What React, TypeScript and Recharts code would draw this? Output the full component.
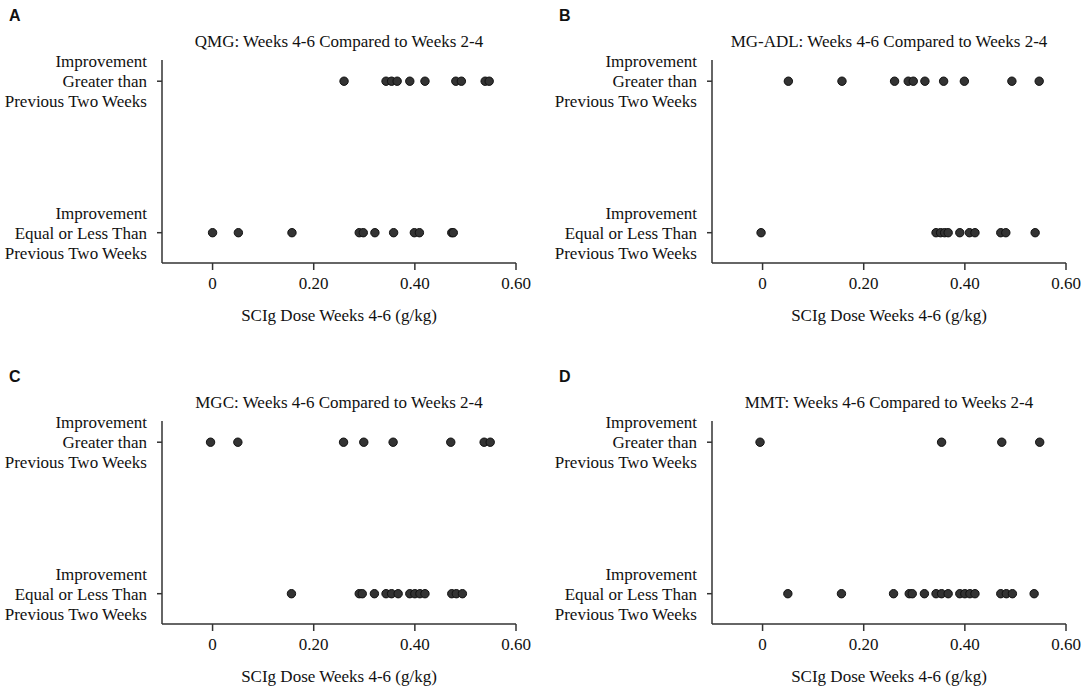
import { ScatterChart, Scatter, XAxis, YAxis } from 'recharts';

// dose values (g/kg), one list per outcome row
const qmgGreater = [0.26, 0.343, 0.354, 0.365, 0.39, 0.42, 0.481, 0.492, 0.539, 0.547];
const qmgEqual = [0, 0.051, 0.157, 0.29, 0.298, 0.321, 0.358, 0.399, 0.409, 0.473, 0.476];

const adlGreater = [0.051, 0.157, 0.261, 0.288, 0.298, 0.321, 0.358, 0.399, 0.493, 0.547];
const adlEqual = [-0.003, 0.343, 0.352, 0.36, 0.367, 0.39, 0.409, 0.42, 0.471, 0.481, 0.539];

const mgcGreater = [-0.004, 0.05, 0.259, 0.299, 0.357, 0.471, 0.537, 0.549];
const mgcEqual = [0.156, 0.29, 0.296, 0.32, 0.343, 0.354, 0.367, 0.39, 0.4, 0.41, 0.42, 0.473, 0.482, 0.494];

const mmtGreater = [-0.005, 0.354, 0.473, 0.548];
const mmtEqual = [0.05, 0.156, 0.259, 0.29, 0.296, 0.32, 0.343, 0.354, 0.367, 0.39, 0.4, 0.41, 0.42, 0.471, 0.482, 0.494, 0.537];

const xTicks = [0, 0.2, 0.4, 0.6];
const yCategories: Record<number, string[]> = {
  1: ['Improvement', 'Greater than', 'Previous Two Weeks'],
  0: ['Improvement', 'Equal or Less Than', 'Previous Two Weeks'],
};
const xLabel = 'SCIg Dose Weeks 4-6 (g/kg)';

const panels = [
  { letter: 'A', title: 'QMG: Weeks 4-6 Compared to Weeks 2-4', greater: qmgGreater, equal: qmgEqual },
  { letter: 'B', title: 'MG-ADL: Weeks 4-6 Compared to Weeks 2-4', greater: adlGreater, equal: adlEqual },
  { letter: 'C', title: 'MGC: Weeks 4-6 Compared to Weeks 2-4', greater: mgcGreater, equal: mgcEqual },
  { letter: 'D', title: 'MMT: Weeks 4-6 Compared to Weeks 2-4', greater: mmtGreater, equal: mmtEqual },
];

const SERIF = '"Liberation Serif", "Times New Roman", serif';
const INK = '#111';
const AXIS = '#333';

const YTick = (props: any) => {
  const { x, y, payload } = props;
  const lines = yCategories[payload.value] || [];
  return (
    <text x={x} y={y - 14} textAnchor="end" fontFamily={SERIF} fontSize={17} fill={INK}>
      {lines.map((l, i) => (
        <tspan key={i} x={x} dy={i === 0 ? 0 : 20}>{l}</tspan>
      ))}
    </text>
  );
};

const Dot = (props: any) => (
  <circle cx={props.cx} cy={props.cy} r={4.2} fill="#333" stroke="#111" strokeWidth={1} />
);

const Panel = ({ p, left, top }: { p: typeof panels[number]; left: number; top: number }) => {
  const data = [
    ...p.greater.map(d => ({ dose: d, y: 1 })),
    ...p.equal.map(d => ({ dose: d, y: 0 })),
  ];
  return (
    <div style={{ position: 'absolute', left, top, width: 550, height: 361 }}>
      <div style={{ position: 'absolute', left: 9, top: 7, fontFamily: '"Liberation Sans", Arial, sans-serif', fontWeight: 'bold', fontSize: 16, color: INK }}>
        {p.letter}
      </div>
      <div style={{ position: 'absolute', left: 162, width: 354, top: 32, textAlign: 'center', fontFamily: SERIF, fontSize: 17, lineHeight: '20px', color: INK }}>
        {p.title}
      </div>
      <ScatterChart width={550} height={361} margin={{ top: 60, right: 34, bottom: 38, left: 0 }}>
        <XAxis
          dataKey="dose"
          type="number"
          domain={[-0.1, 0.6]}
          ticks={xTicks}
          tickFormatter={(v: number) => (v === 0 ? '0' : v.toFixed(2))}
          stroke={AXIS}
          strokeWidth={1.5}
          tickSize={7}
          tickMargin={7}
          height={60}
          tick={{ fill: INK, fontFamily: SERIF, fontSize: 17 }}
          label={{ value: xLabel, position: 'insideBottom', offset: 2, fill: INK, fontFamily: SERIF, fontSize: 17 }}
        />
        <YAxis
          dataKey="y"
          type="number"
          domain={[-0.2, 1.14]}
          ticks={[0, 1]}
          stroke={AXIS}
          strokeWidth={1.5}
          tickSize={5}
          tickMargin={10}
          width={162}
          tick={<YTick />}
        />
        <Scatter data={data} shape={<Dot />} isAnimationActive={false} />
      </ScatterChart>
    </div>
  );
};

export default function App() {
  return (
    <div style={{ position: 'absolute', left: 0, top: 0, width: 1084, height: 687, background: '#fff' }}>
      <Panel p={panels[0]} left={0} top={0} />
      <Panel p={panels[1]} left={550} top={0} />
      <Panel p={panels[2]} left={0} top={361} />
      <Panel p={panels[3]} left={550} top={361} />
    </div>
  );
}
